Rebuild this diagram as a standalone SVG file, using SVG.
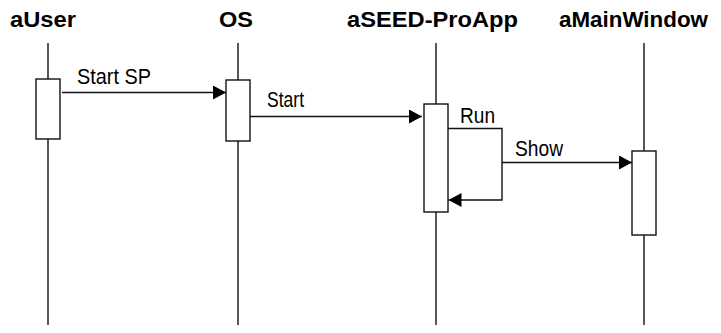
<svg xmlns="http://www.w3.org/2000/svg" width="721" height="333" viewBox="0 0 721 333">
  <defs>
    <style>
      .title { font-family: "Liberation Sans", Arial, sans-serif; font-weight: bold; font-size: 21.5px; fill: #000; }
      .label { font-family: "Liberation Sans", Arial, sans-serif; font-size: 22px; fill: #000; }
      .life { stroke: #111; stroke-width: 1.4; fill: none; }
      .act { stroke: #111; stroke-width: 1.4; fill: #fff; }
      .msg { stroke: #111; stroke-width: 1.4; fill: none; }
    </style>
    <marker id="arrow" viewBox="0 0 13 14" refX="13" refY="7" markerWidth="13" markerHeight="14" markerUnits="userSpaceOnUse" orient="auto">
      <path d="M0,0 L13,7 L0,14 Z" fill="#000"/>
    </marker>
  </defs>

  <rect width="721" height="333" fill="#fff"/>

  <!-- lifeline: aUser -->
  <g id="aUser">
    <text class="title" x="10" y="27" textLength="66" lengthAdjust="spacingAndGlyphs">aUser</text>
    <line class="life" x1="48" y1="43" x2="48" y2="325"/>
    <rect class="act" x="36" y="79" width="24" height="60"/>
  </g>

  <!-- lifeline: OS -->
  <g id="OS">
    <text class="title" x="219" y="27" textLength="34" lengthAdjust="spacingAndGlyphs">OS</text>
    <line class="life" x1="238" y1="43" x2="238" y2="325"/>
    <rect class="act" x="226" y="80" width="24" height="61"/>
  </g>

  <!-- lifeline: aSEED-ProApp -->
  <g id="aSEED-ProApp">
    <text class="title" x="347" y="27" textLength="171" lengthAdjust="spacingAndGlyphs">aSEED-ProApp</text>
    <line class="life" x1="436" y1="43" x2="436" y2="325"/>
    <rect class="act" x="424" y="104" width="24" height="108"/>
  </g>

  <!-- lifeline: aMainWindow -->
  <g id="aMainWindow">
    <text class="title" x="559" y="27" textLength="149" lengthAdjust="spacingAndGlyphs">aMainWindow</text>
    <line class="life" x1="644" y1="43" x2="644" y2="325"/>
    <rect class="act" x="632" y="151" width="24" height="84"/>
  </g>

  <!-- messages -->
  <g id="connectors">
    <line class="msg" x1="62" y1="92.5" x2="226" y2="92.5" marker-end="url(#arrow)"/>
    <text class="label" x="77" y="84" textLength="74" lengthAdjust="spacingAndGlyphs">Start SP</text>

    <line class="msg" x1="250" y1="116.5" x2="422" y2="116.5" marker-end="url(#arrow)"/>
    <text class="label" x="267" y="107" textLength="37" lengthAdjust="spacingAndGlyphs">Start</text>

    <polyline class="msg" points="448,128.5 502,128.5 502,200 448.5,200" marker-end="url(#arrow)"/>
    <text class="label" x="460" y="122.5" textLength="35" lengthAdjust="spacingAndGlyphs">Run</text>

    <line class="msg" x1="502" y1="162.5" x2="632" y2="162.5" marker-end="url(#arrow)"/>
    <text class="label" x="515" y="156" textLength="48" lengthAdjust="spacingAndGlyphs">Show</text>
  </g>
</svg>
